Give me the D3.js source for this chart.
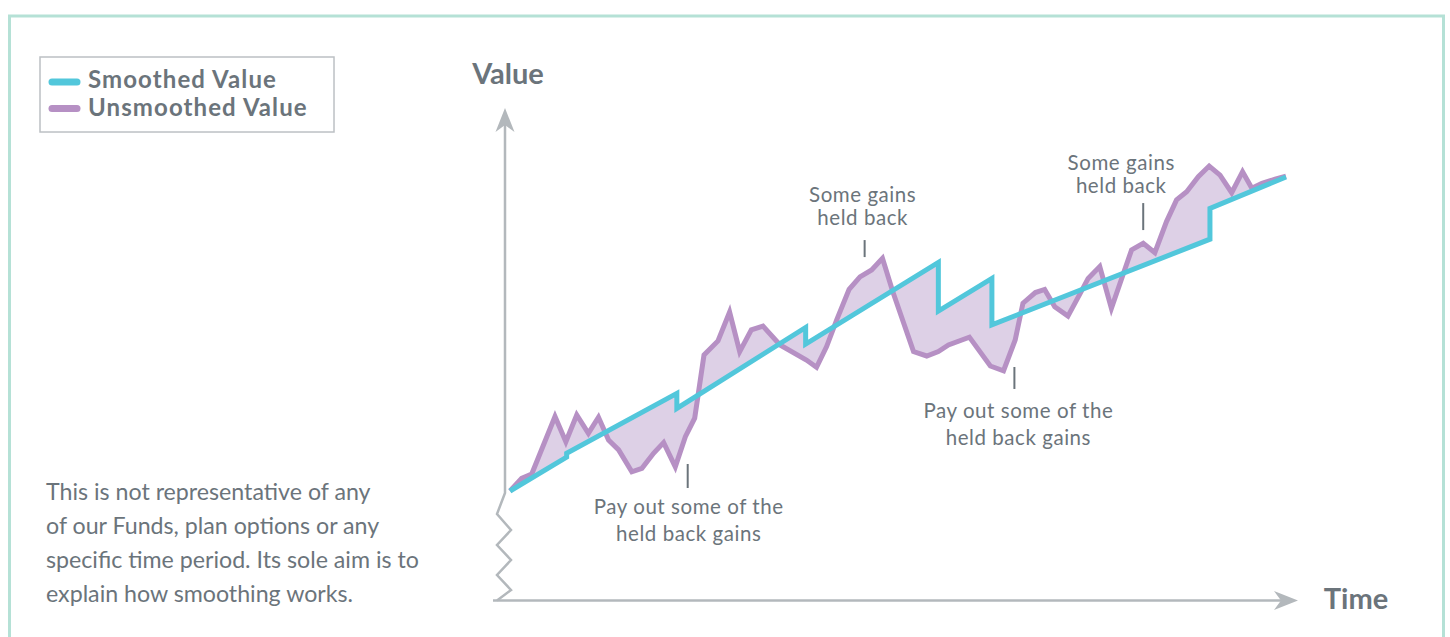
<!DOCTYPE html>
<html>
<head>
<meta charset="utf-8">
<script src="https://cdn.jsdelivr.net/npm/d3@7"></script>
<style>
  html, body { margin: 0; padding: 0; background: #ffffff; }
  svg { display: block; font-family: Lato, "Open Sans", sans-serif; }
</style>
</head>
<body>
<svg id="chart" width="1450" height="637"></svg>
<script>
// Illustrative series: time index (0-100) and value (0-100)
const unsmoothedTime = [0, 1.5, 2.8, 5.8, 7.2, 8.6, 10.1, 11.4, 12.7, 14.0, 15.7, 17.0, 18.5, 19.8, 21.3, 22.6, 23.8, 25.0, 26.8, 28.3, 29.6, 31.1, 32.6, 34.8, 38.2, 39.5, 40.8, 42.1, 43.7, 45.1, 46.6, 48.0, 49.3, 52.0, 53.7, 55.2, 56.5, 59.2, 61.9, 63.6, 65.1, 66.1, 67.7, 68.9, 70.2, 71.9, 73.5, 74.5, 76.0, 77.5, 80.1, 81.6, 83.1, 84.6, 85.9, 87.2, 88.7, 90.1, 91.5, 93.0, 94.4, 95.6, 96.9, 98.6, 100];
const unsmoothedValue = [0, 4.0, 5.4, 23.7, 15.7, 24.2, 18.4, 23.5, 16.2, 13.1, 6.1, 7.2, 12.0, 15.4, 7.7, 17.3, 23.2, 43.3, 47.8, 57.0, 44.4, 51.3, 52.5, 46.5, 41.7, 39.4, 46.0, 54.5, 64.2, 68.2, 70.4, 74.1, 63.7, 44.4, 43.0, 44.4, 46.5, 49.0, 39.8, 38.3, 48.1, 59.8, 63.2, 64.2, 58.7, 55.7, 63.0, 67.7, 71.5, 58.2, 76.8, 78.9, 75.9, 85.8, 92.7, 95.3, 100.1, 103.5, 100.6, 95.0, 101.7, 96.4, 98.0, 99.3, 100.3];

// Smoothed series: steady growth with occasional adjustments (vertical steps)
const smoothedTime = [0, 7.3, 7.3, 21.5, 21.5, 38.1, 38.1, 55.2, 55.2, 62.1, 62.1, 90.2, 90.2, 100];
const smoothedValue = [0, 10.8, 12.0, 31.1, 26.3, 52.1, 46.8, 72.8, 57.3, 67.7, 52.9, 80.2, 90.0, 100];

const legendLabels = ["Smoothed Value", "Unsmoothed Value"];
const axisLabels = { y: "Value", x: "Time" };

const annotationText = [
  ["Pay out some of the", "held back gains"],
  ["Some gains", "held back"],
  ["Pay out some of the", "held back gains"],
  ["Some gains", "held back"]
];
// time each leader marks, and the value at the leader's end nearest the lines
const annotationTime = [22.9, 45.7, 65.0, 81.6];
const annotationValue = [8.6, 74.5, 39.5, 83.1];
const annotationAbove = [false, true, false, true];

const noteLines = [
  "This is not representative of any",
  "of our Funds, plan options or any",
  "specific time period. Its sole aim is to",
  "explain how smoothing works."
];

const COLORS = {
  smooth: "#52c7db",
  unsmooth: "#b690c4",
  fill: "#ddd0e6",
  text: "#6b747b",
  axis: "#b3b8bc",
  frame: "#b5e1d6",
  legendBorder: "#bcc0c4"
};

const svg = d3.select("#chart");

const x = d3.scaleLinear().domain([0, 100]).range([510, 1286]);
const y = d3.scaleLinear().domain([0, 100]).range([491, 177]);

// Outer frame
svg.append("rect")
  .attr("x", 9.5).attr("y", 16)
  .attr("width", 1434).attr("height", 660)
  .attr("fill", "none")
  .attr("stroke", COLORS.frame)
  .attr("stroke-width", 3);

const unsmoothed = unsmoothedTime.map((t, i) => [t, unsmoothedValue[i]]);
const smoothed = smoothedTime.map((t, i) => [t, smoothedValue[i]]);

const line = d3.line().x(d => x(d[0])).y(d => y(d[1]));

// Shaded gap between the two series
const gapPolygon = unsmoothed.concat(smoothed.slice().reverse());
svg.append("path")
  .attr("d", line(gapPolygon) + "Z")
  .attr("fill", COLORS.fill)
  .attr("stroke", "none");

svg.append("path")
  .attr("d", line(unsmoothed))
  .attr("fill", "none")
  .attr("stroke", COLORS.unsmooth)
  .attr("stroke-width", 5)
  .attr("stroke-linejoin", "miter")
  .attr("stroke-miterlimit", 4);

svg.append("path")
  .attr("d", line(smoothed))
  .attr("fill", "none")
  .attr("stroke", COLORS.smooth)
  .attr("stroke-width", 5)
  .attr("stroke-linejoin", "miter")
  .attr("stroke-miterlimit", 6);

// Axes: arrows with a broken (zigzag) section below the origin
const ax0 = x(0) - 5;
const ay0 = y(0);
const baseY = 600.5;
const axisG = svg.append("g")
  .attr("fill", "none")
  .attr("stroke", COLORS.axis)
  .attr("stroke-width", 2.5)
  .attr("stroke-linejoin", "miter");

const zig = [[ax0, 125], [ax0, ay0 + 2], [ax0 - 8, ay0 + 23], [ax0 + 6, ay0 + 39], [ax0 - 8, ay0 + 54],
  [ax0 + 6, ay0 + 69], [ax0 - 8, ay0 + 84], [ax0 + 6, ay0 + 99], [ax0 - 8, baseY]];
axisG.append("path").attr("d", d3.line()(zig));
axisG.append("path").attr("d", d3.line()([[ax0 - 12, baseY], [1285, baseY]]));

function arrowHead(tx, ty, dir) {
  const L = 24, W = 9.5, N = 17;
  let pts;
  if (dir === "up") {
    pts = [[tx, ty], [tx + W, ty + L], [tx, ty + N], [tx - W, ty + L]];
  } else {
    pts = [[tx, ty], [tx - L, ty - W], [tx - N, ty], [tx - L, ty + W]];
  }
  svg.append("path")
    .attr("d", d3.line()(pts) + "Z")
    .attr("fill", COLORS.axis)
    .attr("stroke", "none");
}
arrowHead(ax0, 108, "up");
arrowHead(1298, baseY, "right");

svg.append("text")
  .attr("x", 508).attr("y", 84)
  .attr("text-anchor", "middle")
  .attr("font-size", 29).attr("font-weight", 700)
  .attr("fill", COLORS.text)
  .text(axisLabels.y);

svg.append("text")
  .attr("x", 1356).attr("y", 609)
  .attr("text-anchor", "middle")
  .attr("font-size", 29).attr("font-weight", 700)
  .attr("fill", COLORS.text)
  .text(axisLabels.x);

// Annotations
const leaderLen = [24, 17, 22, 27];
const textShift = [1, -2, 4, -22];
const textGap = [26, 38, 29, 33];
annotationText.forEach((lines, i) => {
  const ax = x(annotationTime[i]);
  const end = y(annotationValue[i]);
  const above = annotationAbove[i];
  const far = above ? end - leaderLen[i] : end + leaderLen[i];
  const g = svg.append("g");
  g.append("line")
    .attr("x1", ax).attr("x2", ax)
    .attr("y1", end).attr("y2", far)
    .attr("stroke", COLORS.text)
    .attr("stroke-width", 2);
  const firstBaseline = above ? far - textGap[i] : far + textGap[i];
  lines.forEach((s, j) => {
    g.append("text")
      .attr("x", ax + textShift[i])
      .attr("y", firstBaseline + j * (above ? 23 : 27))
      .attr("text-anchor", "middle")
      .attr("font-size", 20.5)
      .attr("letter-spacing", 0.55)
      .attr("fill", COLORS.text)
      .text(s);
  });
});

// Legend
const legend = svg.append("g");
legend.append("rect")
  .attr("x", 40).attr("y", 57)
  .attr("width", 294).attr("height", 75)
  .attr("fill", "#ffffff")
  .attr("stroke", COLORS.legendBorder)
  .attr("stroke-width", 1.5);
[COLORS.smooth, COLORS.unsmooth].forEach((c, i) => {
  const ly = 82 + i * 26.5;
  legend.append("line")
    .attr("x1", 52).attr("x2", 77)
    .attr("y1", ly).attr("y2", ly)
    .attr("stroke", c)
    .attr("stroke-width", 7)
    .attr("stroke-linecap", "round");
  legend.append("text")
    .attr("x", 88).attr("y", 87.5 + i * 28.5)
    .attr("font-size", 24).attr("font-weight", 700)
    .attr("letter-spacing", 1.1)
    .attr("fill", COLORS.text)
    .text(legendLabels[i]);
});

// Disclaimer note
noteLines.forEach((s, i) => {
  svg.append("text")
    .attr("x", 46).attr("y", 500 + i * 34)
    .attr("font-size", 23.2)
    .attr("fill", COLORS.text)
    .text(s);
});
</script>
</body>
</html>
